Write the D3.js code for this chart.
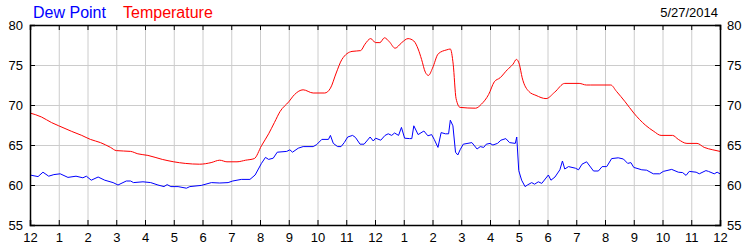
<!DOCTYPE html>
<html>
<head>
<meta charset="utf-8">
<script src="https://cdn.jsdelivr.net/npm/d3@7"></script>
<style>
  body { margin: 0; background: #fff; }
  text { font-family: "Liberation Sans", Arial, sans-serif; }
</style>
</head>
<body>
<svg id="canvas"></svg>
<script>
// hours since midnight
const tempHours = [
    0, 0.4, 0.75, 1.0, 1.45, 1.8, 2.1, 2.45, 2.8, 3.0,
    3.5, 3.75, 4.1, 4.6, 5.0, 5.4, 5.9, 6.3, 6.6, 6.85,
    7.2, 7.5, 7.8, 8.05, 8.3, 8.5, 8.7, 9.0, 9.2, 9.5,
    9.85, 10.25, 10.45, 10.65, 10.85, 11.2, 11.5, 11.65, 11.85, 12.02,
    12.17, 12.33, 12.5, 12.7, 12.93, 13.15, 13.35, 13.5, 13.62, 13.75,
    13.86, 14.0, 14.2, 14.5, 14.62, 14.72, 14.82, 14.96, 15.5, 15.7,
    15.95, 16.15, 16.35, 16.6, 16.8, 16.92, 17.02, 17.12, 17.35, 17.6,
    17.95, 18.25, 18.6, 19.1, 19.35, 19.5, 20.2, 20.4, 20.7, 21.0,
    21.4, 21.7, 21.95, 22.35, 22.55, 22.85, 23.2, 23.45, 23.75, 24
];
const tempValues = [
    69.0, 68.5, 67.8, 67.4, 66.7, 66.2, 65.7, 65.3, 64.7, 64.3,
    64.2, 63.9, 63.7, 63.2, 62.9, 62.7, 62.6, 62.8, 63.1, 62.9,
    62.9, 63.1, 63.3, 64.9, 66.4, 67.8, 69.2, 70.4, 71.3, 71.9,
    71.5, 71.5, 72.1, 74.0, 75.7, 76.7, 76.8, 77.6, 78.3, 77.8,
    77.8, 78.4, 77.9, 77.1, 77.8, 78.3, 78.0, 77.0, 75.7, 74.1,
    73.7, 74.6, 76.4, 76.9, 77.0, 75.1, 70.8, 69.7, 69.6, 70.1,
    71.3, 72.9, 73.4, 74.4, 75.1, 75.7, 75.1, 73.4, 71.7, 71.2,
    70.8, 71.6, 72.7, 72.7, 72.5, 72.5, 72.5, 71.7, 70.4, 69.0,
    67.5, 66.7, 66.2, 66.2, 65.7, 65.2, 65.2, 64.7, 64.4, 64.2
];

const dewHours = [
    0, 0.28, 0.45, 0.65, 0.83, 1.05, 1.32, 1.6, 1.84, 1.96,
    2.13, 2.37, 2.6, 2.89, 3.06, 3.35, 3.5, 3.6, 3.93, 4.2,
    4.45, 4.66, 4.77, 4.9, 5.15, 5.44, 5.56, 5.96, 6.31, 6.6,
    6.89, 7.05, 7.35, 7.65, 7.83, 8.05, 8.19, 8.3, 8.46, 8.6,
    8.93, 9.04, 9.13, 9.33, 9.5, 9.85, 9.97, 10.15, 10.38, 10.45,
    10.55, 10.7, 10.82, 10.93, 11.05, 11.22, 11.32, 11.48, 11.62, 11.83,
    11.94, 12.02, 12.2, 12.35, 12.46, 12.58, 12.68, 12.82, 12.92, 13.03,
    13.2, 13.28, 13.35, 13.5, 13.7, 13.84, 13.97, 14.06, 14.19, 14.3,
    14.45, 14.56, 14.62, 14.71, 14.8, 14.88, 14.96, 15.07, 15.37, 15.55,
    15.66, 15.78, 15.87, 16.0, 16.1, 16.26, 16.38, 16.55, 16.68, 16.88,
    16.93, 17.0, 17.1, 17.22, 17.3, 17.45, 17.55, 17.68, 17.8, 18.03,
    18.12, 18.26, 18.43, 18.52, 18.6, 18.73, 18.97, 19.08, 19.2, 19.36,
    19.6, 19.77, 19.9, 20.06, 20.23, 20.46, 20.64, 20.79, 20.9, 21.0,
    21.28, 21.45, 21.68, 21.9, 22.03, 22.32, 22.55, 22.7, 22.82, 22.93,
    23.17, 23.28, 23.51, 23.6, 23.8, 23.9, 24
];
const dewValues = [
    61.25, 61.05, 61.6, 61.1, 61.3, 61.4, 60.95, 61.1, 60.9, 61.1,
    60.6, 61.0, 60.6, 60.3, 60.0, 60.5, 60.5, 60.3, 60.4, 60.3,
    60.0, 59.8, 60.05, 59.8, 59.8, 59.6, 59.8, 59.95, 60.3, 60.25,
    60.3, 60.5, 60.7, 60.7, 61.25, 62.7, 63.45, 63.2, 63.35, 64.1,
    64.2, 64.4, 64.1, 64.6, 64.8, 64.8, 65.05, 65.7, 65.7, 66.2,
    65.2, 64.8, 64.8, 65.3, 66.0, 66.2, 65.95, 65.1, 65.1, 66.0,
    65.5, 65.85, 65.6, 66.2, 66.4, 66.2, 66.5, 66.2, 67.2, 65.85,
    65.8, 65.8, 67.4, 66.3, 66.75, 66.15, 66.3, 65.7, 64.7, 66.55,
    66.4, 66.4, 68.1, 67.4, 64.1, 63.75, 64.4, 65.1, 65.3, 64.5,
    64.8, 64.7, 65.1, 65.2, 65.0, 65.2, 65.6, 65.8, 65.3, 65.2,
    66.0, 61.8, 60.6, 59.8, 60.0, 60.3, 60.1, 60.4, 60.2, 61.25,
    60.6, 61.0, 61.9, 63.0, 62.0, 62.3, 62.1, 61.9, 62.6, 62.9,
    61.75, 61.75, 62.3, 62.3, 63.3, 63.4, 63.25, 62.7, 62.8, 62.2,
    61.9, 61.85, 61.4, 61.4, 61.7, 61.95, 61.6, 61.55, 61.2, 61.7,
    61.6, 61.4, 61.8, 61.7, 61.4, 61.6, 61.4
];

const hourTicks = d3.range(0, 25, 1);
const tempTicks = [55, 60, 65, 70, 75, 80];
const dateLabel = "5/27/2014";

const svg = d3.select("#canvas");
const width = 750;
const height = 250;
svg.attr("width", width).attr("height", height);

const marginTop = 25;
const marginRight = 30;
const marginBottom = 25;
const marginLeft = 30;

const x = d3.scaleLinear()
    .domain([0, 24])
    .range([marginLeft, width - marginRight]);

const y = d3.scaleLinear()
    .domain([55, 80])
    .range([height - marginBottom, marginTop]);

// grid
svg.append("g")
    .attr("transform", `translate(0,${height - marginBottom})`)
    .call(d3.axisBottom(x).tickValues(hourTicks).tickSize(-(height - marginTop - marginBottom)).tickFormat(""))
    .call(g => g.select(".domain").remove())
    .call(g => g.selectAll("line").attr("stroke", "#cccccc"));

svg.append("g")
    .attr("transform", `translate(${marginLeft},0)`)
    .call(d3.axisLeft(y).tickValues(tempTicks).tickSize(-(width - marginLeft - marginRight)).tickFormat(""))
    .call(g => g.select(".domain").remove())
    .call(g => g.selectAll("line").attr("stroke", "#cccccc"));

// lines
svg.append("clipPath").attr("id", "plot")
    .append("rect")
    .attr("x", marginLeft).attr("y", marginTop)
    .attr("width", width - marginLeft - marginRight)
    .attr("height", height - marginTop - marginBottom);

const line = d3.line()
    .x(d => x(d[0]))
    .y(d => y(d[1]));

svg.append("path")
    .datum(dewHours.map((h, i) => [h, dewValues[i]]))
    .attr("clip-path", "url(#plot)")
    .attr("fill", "none")
    .attr("stroke", "#0000ff")
    .attr("stroke-width", 1)
    .attr("d", line);

svg.append("path")
    .datum(tempHours.map((h, i) => [h, tempValues[i]]))
    .attr("clip-path", "url(#plot)")
    .attr("fill", "none")
    .attr("stroke", "#ff0000")
    .attr("stroke-width", 1)
    .attr("d", line.curve(d3.curveMonotoneX));

// frame + inward ticks
const hourFmt = h => (h % 12 === 0 ? 12 : h % 12);

svg.append("g")
    .attr("transform", `translate(0,${height - marginBottom})`)
    .call(d3.axisBottom(x).tickValues(hourTicks).tickSize(-5).tickPadding(8).tickFormat(hourFmt))
    .call(g => g.selectAll("text").attr("font-size", 13).attr("fill", "#000").attr("font-family", null));

svg.append("g")
    .attr("transform", `translate(0,${marginTop})`)
    .call(d3.axisTop(x).tickValues(hourTicks).tickSize(-5).tickFormat(""));

svg.append("g")
    .attr("transform", `translate(${marginLeft},0)`)
    .call(d3.axisLeft(y).tickValues(tempTicks).tickSize(-5).tickPadding(7))
    .call(g => g.selectAll("text").attr("font-size", 13).attr("fill", "#000").attr("font-family", null));

svg.append("g")
    .attr("transform", `translate(${width - marginRight},0)`)
    .call(d3.axisRight(y).tickValues(tempTicks).tickSize(-5).tickPadding(7))
    .call(g => g.selectAll("text").attr("font-size", 13).attr("fill", "#000").attr("font-family", null));

svg.selectAll(".domain").attr("stroke", "#000").attr("stroke-width", 1.5);

// header
svg.append("text")
    .attr("x", 33).attr("y", 18)
    .attr("font-size", 16)
    .attr("fill", "#0000ff")
    .text("Dew Point");

svg.append("text")
    .attr("x", 123).attr("y", 18)
    .attr("font-size", 16)
    .attr("fill", "#ff0000")
    .text("Temperature");

svg.append("text")
    .attr("x", 718).attr("y", 17)
    .attr("text-anchor", "end")
    .attr("font-size", 13)
    .attr("fill", "#000")
    .text(dateLabel);
</script>
</body>
</html>
